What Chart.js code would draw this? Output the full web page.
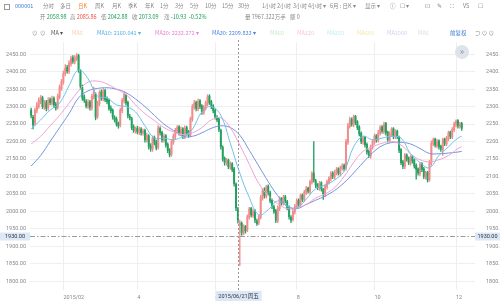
<!DOCTYPE html>
<html>
<head>
<meta charset="utf-8">
<script src="https://cdn.jsdelivr.net/npm/chart.js@4.4.1/dist/chart.umd.min.js"></script>
<style>
body { margin: 0; width: 500px; height: 304px; background: #fff; overflow: hidden; position: relative; font-family: "Noto Sans CJK SC", "Noto Sans", sans-serif; }
#c { position: absolute; left: 0; top: 0; }
.t { position: absolute; font-size: 5.5px; line-height: 7px; white-space: nowrap; color: #888; }
.r1 { top: 3px; }
.r2 { top: 14px; }
.r3 { top: 30px; }
.g { color: #1ea05a; }
.red { color: #f0504a; }
.box { position: absolute; width: 4px; height: 4px; border: 1px solid #999; }
.btn { position: absolute; left: 455px; top: 45px; width: 14px; height: 14px; border-radius: 7px; background: #dfe3ea; color: #8a93a3; font-size: 9px; line-height: 13px; text-align: center; }
</style>
</head>
<body>
<canvas id="c" width="500" height="304"></canvas>

<div class="box" style="left:4px;top:4px"></div>
<span class="t r1" style="left:15px;color:#3a7bd5">000001</span>
<span class="t r1" style="left:43px">分时</span>
<span class="t r1" style="left:60px">多日</span>
<span class="t r1" style="left:78px;color:#f5862d">日K</span>
<span class="t r1" style="left:95px">周K</span>
<span class="t r1" style="left:112px">月K</span>
<span class="t r1" style="left:128px">季K</span>
<span class="t r1" style="left:145px">年K</span>
<span class="t r1" style="left:160px">1分</span>
<span class="t r1" style="left:175px">3分</span>
<span class="t r1" style="left:190px">5分</span>
<span class="t r1" style="left:205px">10分</span>
<span class="t r1" style="left:222px">15分</span>
<span class="t r1" style="left:238px">30分</span>
<span class="t r1" style="left:262px">1小时</span>
<span class="t r1" style="left:277px">2小时</span>
<span class="t r1" style="left:293px">3小时</span>
<span class="t r1" style="left:308px">4小时 ▾</span>
<span class="t r1" style="left:330px">6月 : 日K ▾</span>
<span class="t r1" style="left:365px">显示 ▾</span>
<span class="t r1" style="left:390px">ⓘ</span>
<span class="t r1" style="left:400px">☐ ▾</span>
<span class="t r1" style="left:425px">⊡</span>
<span class="t r1" style="left:437px">✎</span>
<span class="t r1" style="left:450px">⛶</span>
<span class="t r1" style="left:463px">VS</span>
<span class="t r1" style="left:478px">☐</span>

<span class="t r2" style="left:40px">开 <span class="g">2058.98</span></span>
<span class="t r2" style="left:70px">高 <span class="red">2085.86</span></span>
<span class="t r2" style="left:101px">低 <span class="g">2042.88</span></span>
<span class="t r2" style="left:132px">收 <span class="g">2073.09</span></span>
<span class="t r2" style="left:164px">涨 <span class="g">-10.93&nbsp;&nbsp;-0.52%</span></span>
<span class="t r2" style="left:245px">量 7967.322万手</span>
<span class="t r2" style="left:290px">额 0</span>

<span class="t r3" style="left:32px">⊙</span>
<span class="t r3" style="left:40px">⊙</span>
<span class="t r3" style="left:51px;color:#555">MA ▾</span>
<span class="t r3" style="left:72px;color:#f6d2a8">MA5</span>
<span class="t r3" style="left:97px;color:#52aee6">MA10: 2160.041 ▾</span>
<span class="t r3" style="left:155px;color:#e77fd6">MA20: 2232.272 ▾</span>
<span class="t r3" style="left:212px;color:#4d82e0">MA30: 2209.833 ▾</span>
<span class="t r3" style="left:270px;color:#c6ecc8">MA60</span>
<span class="t r3" style="left:297px;color:#f8c6cc">MA120</span>
<span class="t r3" style="left:327px;color:#c2ecf4">MA250</span>
<span class="t r3" style="left:357px;color:#f4e8a8">MA500</span>
<span class="t r3" style="left:387px;color:#d6cdf2">MA1000</span>
<span class="t r3" style="left:418px;color:#ddd">MA5</span>
<span class="t r3" style="left:450px;color:#3a7bd5">前复权</span>
<span class="t r3" style="left:475px">⊃ ⊙ ⊙</span>

<div class="btn">»</div>

<script>
// daily candles, index 0 = first visible trading day
const opens = [
  2290,2270,2252,2288,2300,2315,2325,2298,2312,2296,
  2320,2310,2324,2306,2298,2328,2352,2370,2394,2412,
  2400,2422,2440,2428,2438,2446,2400,2355,2328,2315,
  2300,2314,2296,2328,2335,2272,2308,2342,2322,2346,
  2322,2318,2296,2290,2268,2264,2252,2248,2288,2316,
  2332,2312,2272,2266,2242,2230,2238,2226,2236,2224,
  2232,2203,2216,2188,2178,2212,2198,2184,2238,2226,
  2203,2217,2192,2176,2164,2198,2213,2230,2242,2223,
  2237,2213,2240,2227,2220,2263,2298,2312,2293,2317,
  2302,2283,2296,2308,2330,2314,2302,2290,2268,2264,
  2232,2183,2152,2138,2147,2126,2137,2122,2078,2008,
  1960,1966,1938,1957,1947,1983,2009,1988,2002,1973,
  1967,1983,2038,2062,2043,2072,2053,2032,2013,2002,
  1973,2008,2037,2023,2042,2028,2012,1983,1977,1998,
  2013,2032,2018,2047,2033,2053,2067,2056,2083,2110,
  2088,2077,2066,2082,2063,2048,2070,2083,2093,2110,
  2098,2110,2122,2108,2123,2132,2124,2198,2243,2264,
  2248,2272,2257,2242,2224,2198,2212,2192,2172,2158,
  2183,2198,2217,2203,2223,2242,2228,2252,2227,2203,
  2220,2237,2213,2230,2213,2177,2142,2128,2162,2152,
  2138,2157,2147,2132,2122,2108,2137,2122,2098,2112,
  2092,2138,2193,2207,2188,2202,2187,2176,2207,2193,
  2208,2227,2213,2233,2248,2260,2243,2252
];
const highs = [
  2296,2275,2296,2312,2325,2332,2330,2318,2318,2326,
  2325,2330,2328,2312,2336,2362,2378,2402,2420,2418,
  2432,2445,2446,2446,2452,2450,2406,2362,2334,2320,
  2320,2318,2336,2356,2340,2316,2346,2348,2352,2350,
  2328,2322,2302,2294,2274,2270,2256,2296,2324,2342,
  2336,2316,2278,2270,2248,2242,2244,2242,2240,2236,
  2236,2224,2220,2194,2216,2216,2204,2246,2242,2230,
  2222,2220,2196,2180,2206,2222,2238,2246,2246,2242,
  2240,2245,2244,2232,2270,2306,2318,2316,2322,2320,
  2306,2304,2316,2334,2334,2318,2306,2294,2274,2268,
  2236,2188,2156,2152,2150,2142,2140,2126,2082,2012,
  1975,1970,1962,1960,1990,2012,2012,2006,2005,1978,
  1990,2046,2066,2068,2075,2076,2058,2036,2018,2006,
  2016,2042,2040,2046,2046,2032,2016,1988,2006,2020,
  2036,2036,2050,2050,2060,2072,2070,2090,2114,2200,
  2092,2080,2086,2085,2066,2078,2090,2100,2114,2114,
  2118,2126,2125,2130,2136,2136,2206,2252,2270,2268,
  2276,2275,2260,2246,2228,2216,2215,2196,2176,2190,
  2206,2222,2220,2232,2246,2246,2256,2255,2230,2228,
  2240,2240,2234,2233,2216,2180,2146,2166,2165,2156,
  2160,2160,2150,2136,2125,2140,2140,2126,2115,2115,
  2146,2202,2210,2210,2206,2205,2190,2210,2210,2215,
  2230,2230,2240,2256,2262,2263,2255,2255
];
const lows = [
  2268,2236,2246,2282,2295,2308,2294,2292,2288,2290,
  2305,2304,2298,2290,2293,2322,2346,2364,2388,2396,
  2394,2416,2424,2422,2432,2398,2350,2318,2312,2296,
  2294,2290,2290,2322,2262,2266,2302,2318,2316,2314,
  2308,2290,2282,2264,2256,2244,2238,2242,2282,2310,
  2304,2268,2262,2234,2226,2224,2222,2220,2218,2218,
  2198,2198,2178,2172,2172,2190,2176,2178,2218,2198,
  2198,2184,2168,2156,2158,2192,2208,2224,2218,2218,
  2208,2208,2218,2212,2214,2258,2292,2288,2288,2294,
  2278,2278,2290,2302,2306,2294,2282,2264,2256,2228,
  2178,2144,2132,2132,2122,2120,2114,2072,2002,1966,
  1845,1932,1933,1938,1942,1978,1984,1982,1968,1960,
  1962,1978,2032,2038,2038,2048,2024,2008,1994,1968,
  1968,2002,2018,2018,2024,2004,1978,1968,1972,1992,
  2008,2014,2012,2028,2028,2048,2052,2050,2078,2084,
  2068,2062,2060,2058,2034,2042,2064,2078,2088,2094,
  2092,2104,2104,2102,2118,2116,2118,2192,2238,2244,
  2242,2248,2234,2216,2194,2192,2184,2164,2154,2152,
  2178,2192,2198,2198,2218,2224,2222,2218,2198,2198,
  2214,2208,2208,2208,2168,2134,2122,2122,2144,2134,
  2132,2138,2124,2092,2104,2102,2114,2094,2092,2084,
  2086,2132,2188,2184,2182,2178,2172,2160,2188,2188,
  2202,2208,2208,2228,2242,2238,2238,2232
];
const closes = [
  2275,2248,2290,2305,2318,2326,2300,2310,2295,2318,
  2312,2322,2305,2296,2330,2355,2372,2395,2410,2402,
  2425,2438,2430,2440,2445,2405,2358,2325,2318,2302,
  2312,2298,2330,2348,2270,2310,2340,2325,2345,2320,
  2315,2295,2288,2270,2262,2250,2245,2290,2318,2335,
  2310,2275,2268,2240,2232,2236,2228,2235,2225,2230,
  2205,2218,2186,2180,2210,2196,2182,2240,2225,2205,
  2215,2190,2175,2162,2200,2215,2232,2240,2225,2235,
  2215,2238,2225,2218,2265,2300,2310,2295,2315,2300,
  2285,2298,2310,2328,2312,2300,2288,2270,2262,2235,
  2185,2150,2140,2145,2128,2135,2120,2080,2010,1975,
  1968,1940,1955,1945,1985,2007,1990,2000,1975,1965,
  1985,2040,2060,2045,2070,2055,2030,2015,2000,1975,
  2010,2035,2025,2040,2030,2010,1985,1975,2000,2015,
  2030,2020,2045,2035,2055,2065,2058,2085,2108,2090,
  2075,2068,2080,2065,2050,2072,2085,2095,2108,2100,
  2112,2120,2110,2125,2130,2122,2200,2245,2262,2250,
  2270,2255,2240,2222,2200,2210,2190,2170,2160,2185,
  2200,2215,2205,2225,2240,2230,2250,2225,2205,2222,
  2235,2215,2228,2215,2175,2140,2130,2160,2150,2140,
  2155,2145,2130,2120,2110,2135,2120,2100,2110,2090,
  2140,2195,2205,2190,2200,2185,2178,2205,2195,2210,
  2225,2215,2235,2250,2258,2245,2250,2238
];

// moving averages read every 5 candles
const maIdx = [0,5,10,15,20,25,30,35,40,45,50,55,60,65,70,75,80,85,90,95,
  100,105,110,115,120,125,130,135,140,145,150,155,160,165,170,175,180,185,190,195,
  200,205,210,215,220,225,227];
const ma10 = [2236,2262,2290,2310,2360,2405,2380,2330,2325,2305,2300,2285,2245,2210,2210,2205,2215,2235,2285,2300,
  2275,2195,2110,2040,1990,2005,2030,2015,2010,2035,2065,2075,2090,2115,2185,2215,2205,2210,2215,2210,
  2165,2140,2125,2160,2185,2210,2215];
const ma20 = [2193,2215,2245,2275,2310,2345,2370,2373,2365,2350,2335,2305,2280,2260,2240,2228,2220,2225,2240,2262,
  2268,2240,2190,2135,2080,2045,2022,2008,2010,2020,2038,2050,2068,2100,2140,2172,2185,2195,2200,2190,
  2165,2148,2142,2148,2160,2180,2185];
const ma30 = [2130,2160,2200,2240,2280,2325,2345,2352,2354,2350,2340,2322,2300,2275,2250,2232,2215,2215,2225,2238,
  2245,2240,2218,2175,2130,2085,2045,2015,2008,2020,2032,2044,2060,2082,2110,2140,2168,2188,2197,2198,
  2193,2180,2166,2165,2167,2170,2172];

const monthTicks = [17, 56, 97, 140, 181, 224];
const monthLabels = ['2015/02', '4', '6', '8', '10', '12'];
const priceTicks = [1800,1850,1900,1950,2000,2050,2100,2150,2200,2250,2300,2350,2400,2450];

const crossIndex = 109;
const crossPrice = 1930;
const crossDate = '2015/06/21周五';

const UP = '#f38b8b';
const DOWN = '#24a060';
const candleColor = ctx => closes[ctx.dataIndex] >= opens[ctx.dataIndex] ? UP : DOWN;

const tickFont = { size: 5.5, family: 'Roboto, "Noto Sans", sans-serif' };

const crosshair = {
  id: 'crosshair',
  afterDraw(chart) {
    const { ctx, chartArea: a, scales } = chart;
    const px = Math.round(scales.x.getPixelForValue(crossIndex)) + 0.5;
    const py = Math.round(scales.y.getPixelForValue(crossPrice)) + 0.5;
    ctx.save();
    ctx.strokeStyle = '#9a9a9a';
    ctx.lineWidth = 1;
    ctx.setLineDash([2, 2]);
    ctx.beginPath(); ctx.moveTo(px, a.top - 2); ctx.lineTo(px, a.bottom); ctx.stroke();
    ctx.setLineDash([5, 2, 1.5, 2]);
    ctx.beginPath(); ctx.moveTo(a.left, py); ctx.lineTo(a.right, py); ctx.stroke();
    ctx.setLineDash([]);

    ctx.font = '5.5px Roboto, "Noto Sans CJK SC", sans-serif';
    ctx.textBaseline = 'middle';
    ctx.textAlign = 'center';
    const lbl = crossPrice.toFixed(2);
    ctx.fillStyle = '#dce8f7';
    ctx.fillRect(0, py - 4, a.left, 8);
    ctx.fillRect(a.right, py - 4, 500 - a.right, 8);
    ctx.fillStyle = '#333';
    ctx.fillText(lbl, a.left / 2, py);
    ctx.fillText(lbl, (a.right + 500) / 2, py);

    const w = ctx.measureText(crossDate).width + 6;
    ctx.fillStyle = '#dce8f7';
    ctx.fillRect(px - w / 2, a.bottom + 1, w, 10);
    ctx.fillStyle = '#333';
    ctx.fillText(crossDate, px, a.bottom + 6.5);
    ctx.restore();
  }
};

new Chart(document.getElementById('c'), {
  data: {
    datasets: [
      {
        type: 'line', label: 'MA10', order: 0,
        data: maIdx.map((x, k) => ({ x, y: ma10[k] })),
        borderColor: '#6cc3ea', borderWidth: 1, pointRadius: 0, tension: 0.4
      },
      {
        type: 'line', label: 'MA20', order: 0,
        data: maIdx.map((x, k) => ({ x, y: ma20[k] })),
        borderColor: '#f0a2d0', borderWidth: 1, pointRadius: 0, tension: 0.4
      },
      {
        type: 'line', label: 'MA30', order: 0,
        data: maIdx.map((x, k) => ({ x, y: ma30[k] })),
        borderColor: '#7393e0', borderWidth: 1, pointRadius: 0, tension: 0.4
      },
      {
        type: 'bar', label: 'wick', order: 2, grouped: false,
        data: closes.map((c, i) => ({ x: i, y: [lows[i], highs[i]] })),
        backgroundColor: candleColor, barThickness: 0.7
      },
      {
        type: 'bar', label: 'body', order: 1, grouped: false,
        data: closes.map((c, i) => ({ x: i, y: [opens[i], c] })),
        backgroundColor: candleColor, barThickness: 1.3, minBarLength: 1
      }
    ]
  },
  options: {
    responsive: false,
    animation: false,
    devicePixelRatio: 1,
    layout: { padding: { top: 42 } },
    plugins: { legend: { display: false }, tooltip: { enabled: false } },
    scales: {
      x: {
        type: 'linear', min: -0.6, max: 234, offset: false,
        grid: { color: '#efefef', drawTicks: false, offset: false },
        border: { display: false },
        afterBuildTicks: s => { s.ticks = monthTicks.map(v => ({ value: v })); },
        afterFit: s => { s.height = 14; },
        ticks: {
          align: 'start', padding: 4, color: '#888', font: tickFont,
          callback: (v, i) => monthLabels[i]
        }
      },
      y: {
        position: 'left', min: 1775, max: 2485,
        grid: { color: '#efefef', drawTicks: false },
        border: { display: false },
        afterBuildTicks: s => { s.ticks = priceTicks.map(v => ({ value: v })); },
        afterFit: s => { s.width = 30; },
        ticks: { padding: 4, color: '#888', font: tickFont, callback: v => v.toFixed(2) }
      },
      y2: {
        position: 'right', min: 1775, max: 2485,
        grid: { display: false },
        border: { display: false },
        afterBuildTicks: s => { s.ticks = priceTicks.map(v => ({ value: v })); },
        afterFit: s => { s.width = 25; },
        ticks: { padding: 3, color: '#888', font: tickFont, callback: v => v.toFixed(2) }
      }
    }
  },
  plugins: [crosshair]
});
</script>
</body>
</html>
